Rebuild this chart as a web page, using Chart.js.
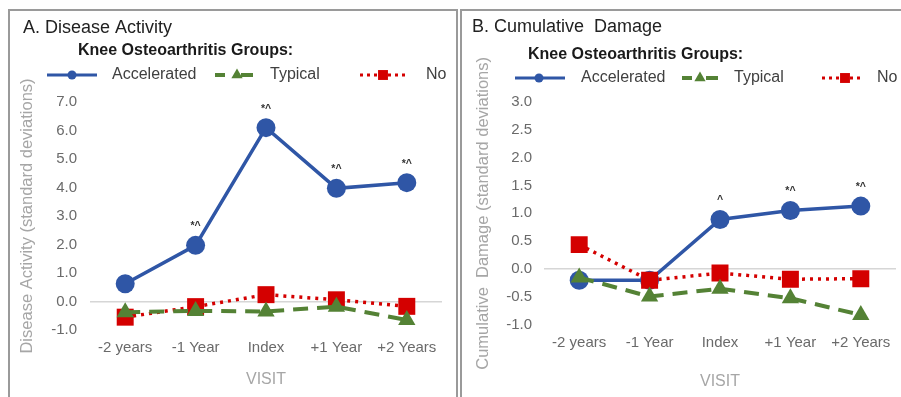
<!DOCTYPE html>
<html>
<head>
<meta charset="utf-8">
<script src="https://cdn.jsdelivr.net/npm/chart.js@4/dist/chart.umd.min.js"></script>
<style>
  html, body { margin: 0; padding: 0; background: #fff; width: 901px; height: 397px; overflow: hidden; }
  .panel { position: absolute; top: 9px; width: 446px; height: 400px; border: 2px solid #9a9a9a; background: #fff; }
  #pa { left: 8px; }
  #pb { left: 460px; }
  canvas { position: absolute; left: 0; top: 0; }
</style>
</head>
<body>
<div class="panel" id="pa"><canvas id="ca" width="446" height="390"></canvas></div>
<div class="panel" id="pb"><canvas id="cb" width="446" height="390"></canvas></div>
<script>
// ---- data ----
const visits = ['-2 years', '-1 Year', 'Index', '+1 Year', '+2 Years'];
const seriesNames = ['Accelerated', 'Typical', 'No'];

const activityAccelerated = [0.62, 1.97, 6.1, 3.97, 4.17];
const activityTypical = [-0.38, -0.33, -0.35, -0.18, -0.65];
const activityNo = [-0.55, -0.18, 0.24, 0.06, -0.17];
const activityMarks = ['', '*^', '*^', '*^', '*^'];

const damageAccelerated = [-0.2, -0.2, 0.89, 1.05, 1.13];
const damageTypical = [-0.15, -0.49, -0.35, -0.52, -0.82];
const damageNo = [0.44, -0.2, -0.07, -0.18, -0.17];
const damageMarks = ['', '', '^', '*^', '*^'];

const FONT = "'Liberation Sans', Arial, sans-serif";
const BLUE = '#2f56a6', GREEN = '#548235', RED = '#d40000';

function datasets(acc, typ, no) {
  return [
    { label: seriesNames[0], data: acc, borderColor: BLUE, backgroundColor: BLUE, borderWidth: 3.5,
      pointStyle: 'circle', pointRadius: 9.5, pointBorderWidth: 0, order: 2, tension: 0 },
    { label: seriesNames[1], data: typ, borderColor: GREEN, backgroundColor: GREEN, borderWidth: 4,
      borderDash: [15, 9], pointStyle: 'triangle', pointRadius: 10, pointBorderWidth: 0, order: 0, tension: 0 },
    { label: seriesNames[2], data: no, borderColor: RED, backgroundColor: RED, borderWidth: 3.5,
      borderDash: [3, 5], pointStyle: 'rect', pointRadius: 12, pointBorderWidth: 0, order: 1, tension: 0 }
  ];
}

const panelPlugin = {
  id: 'panel',
  afterDatasetsDraw(chart, args, opts) {
    const ctx = chart.ctx;
    ctx.save();
    // significance marks
    const meta = chart.getDatasetMeta(0);
    ctx.font = 'bold 10.5px ' + FONT;
    ctx.fillStyle = '#333';
    ctx.textAlign = 'center';
    ctx.textBaseline = 'middle';
    meta.data.forEach((pt, i) => {
      const m = opts.marks[i];
      if (m) ctx.fillText(m, pt.x, pt.y - 19);
    });
    // panel title
    ctx.textAlign = 'left';
    ctx.font = '18px ' + FONT;
    ctx.fillStyle = '#222';
    ctx.fillText(opts.title, opts.titleX, opts.titleY);
    ctx.font = 'bold 16px ' + FONT;
    ctx.fillStyle = '#1a1a1a';
    ctx.fillText('Knee Osteoarthritis Groups:', opts.groupX, opts.groupY);
    // legend
    const y = opts.legY;
    const L = opts.leg;
    chart.data.datasets.forEach((ds, i) => {
      const it = L[i];
      ctx.save();
      ctx.strokeStyle = ds.borderColor;
      ctx.fillStyle = ds.backgroundColor;
      if (i === 1) {
        ctx.lineWidth = 4;
        ctx.beginPath();
        ctx.moveTo(it.x0, y); ctx.lineTo(it.x0 + 10, y);
        ctx.moveTo(it.x1 - 12, y); ctx.lineTo(it.x1, y);
        ctx.stroke();
      } else {
        ctx.lineWidth = 3;
        ctx.setLineDash(i === 0 ? [] : [3, 4]);
        ctx.beginPath();
        ctx.moveTo(it.x0, y);
        ctx.lineTo(it.x1, y);
        ctx.stroke();
        ctx.setLineDash([]);
      }
      const r = i === 0 ? 4.5 : (i === 1 ? 6.5 : 7);
      Chart.helpers.drawPoint(ctx, { pointStyle: ds.pointStyle, radius: r, rotation: 0, borderWidth: 0 }, it.m, y);
      ctx.restore();
      ctx.font = '16px ' + FONT;
      ctx.fillStyle = '#404040';
      ctx.textAlign = 'left';
      ctx.textBaseline = 'middle';
      ctx.fillText(ds.label, it.t, y);
    });
    ctx.restore();
  }
};

function makeChart(id, data, yMin, yMax, yStep, yTitle, lay, plug) {
  return new Chart(document.getElementById(id), {
    type: 'line',
    data: { labels: visits, datasets: data },
    plugins: [panelPlugin],
    options: {
      responsive: false,
      animation: false,
      layout: { padding: lay.padding },
      plugins: { legend: { display: false }, tooltip: { enabled: false }, title: { display: false }, panel: plug },
      scales: {
        x: {
          offset: true,
          grid: { display: false, drawTicks: false },
          border: { display: false },
          ticks: { color: '#6a6a6a', font: { family: FONT, size: 15 }, padding: 9, maxRotation: 0, autoSkip: false },
          title: { display: true, text: 'VISIT', color: '#a6a6a6', font: { family: FONT, size: 16 }, padding: { top: 0, bottom: 0 } },
          afterFit(s) { s.height = lay.xh; }
        },
        y: {
          min: yMin, max: yMax,
          grid: { drawTicks: false, lineWidth: 1.5, color: (c) => (c.tick && c.tick.value === 0) ? '#d6d6d6' : 'rgba(0,0,0,0)' },
          border: { display: false },
          ticks: { stepSize: yStep, color: '#6a6a6a', font: { family: FONT, size: 15 }, padding: lay.tp,
                   callback: (v) => Number(v).toFixed(1) },
          title: { display: true, text: yTitle, color: '#a6a6a6', font: { family: FONT, size: 16.5 }, padding: { top: lay.yt, bottom: 0 } },
          afterFit(s) { s.width = lay.yw; }
        }
      }
    }
  });
}

makeChart('ca', datasets(activityAccelerated, activityTypical, activityNo), -1, 7, 1,
  'Disease Activity (standard deviations)',
  { padding: { left: 0, right: 14, top: 91, bottom: 11.4 }, xh: 59.6, yw: 80, tp: 13, yt: 8 },
  { marks: activityMarks, title: 'A. Disease Activity', titleX: 13, titleY: 17, groupX: 68, groupY: 40, legY: 64,
    leg: [ { x0: 37, x1: 87, m: 62, t: 102 }, { x0: 205, x1: 243, m: 227, t: 260 }, { x0: 350, x1: 398, m: 373, t: 416 } ] });

makeChart('cb', datasets(damageAccelerated, damageTypical, damageNo), -1, 3, 0.5,
  'Cumulative  Damage (standard deviations)',
  { padding: { left: 0, right: 5, top: 90.7, bottom: 9.4 }, xh: 66.6, yw: 82, tp: 12, yt: 12 },
  { marks: damageMarks, title: 'B. Cumulative  Damage', titleX: 10, titleY: 16, groupX: 66, groupY: 44, legY: 67,
    leg: [ { x0: 53, x1: 103, m: 77, t: 119 }, { x0: 220, x1: 256, m: 238, t: 272 }, { x0: 360, x1: 400, m: 383, t: 415 } ] });
</script>
</body>
</html>
